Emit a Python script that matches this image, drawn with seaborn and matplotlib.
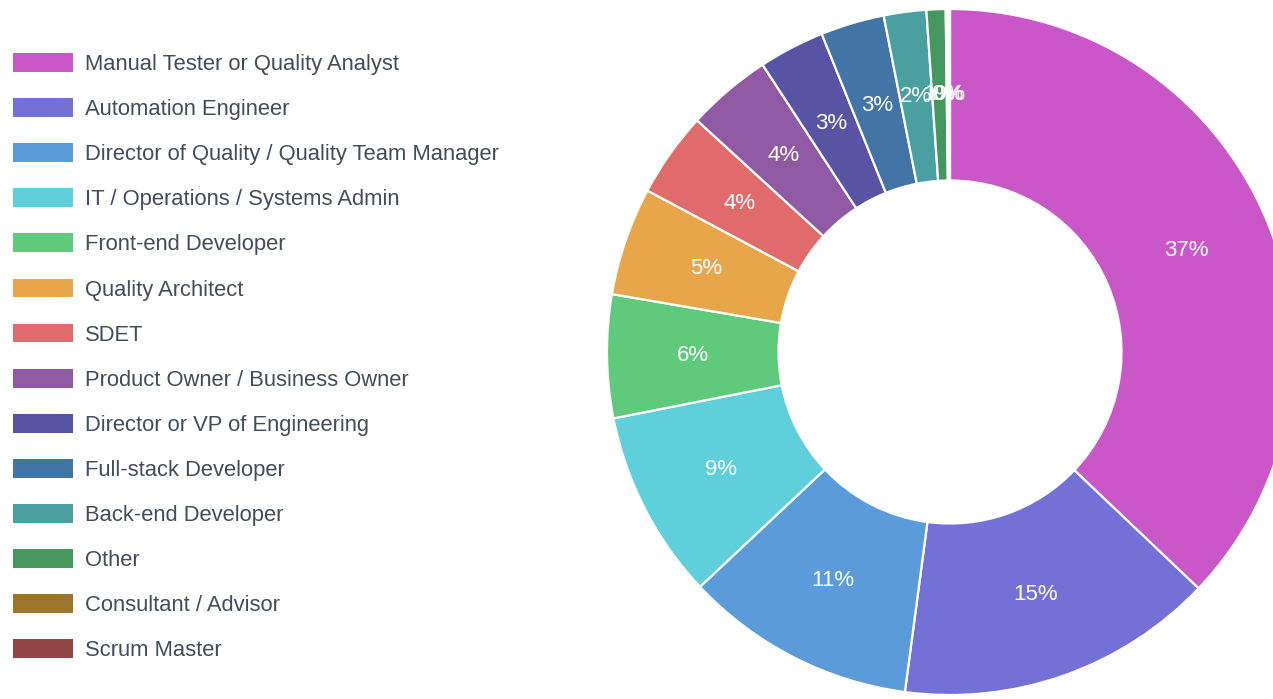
import numpy as np
import matplotlib.pyplot as plt
import seaborn as sns
from matplotlib.patches import Patch

sns.set_style('white')
plt.rcParams['font.family'] = ['Liberation Sans', 'DejaVu Sans']

roles = ['Manual Tester or Quality Analyst', 'Automation Engineer',
         'Director of Quality / Quality Team Manager', 'IT / Operations / Systems Admin',
         'Front-end Developer', 'Quality Architect', 'SDET', 'Product Owner / Business Owner',
         'Director or VP of Engineering', 'Full-stack Developer', 'Back-end Developer',
         'Other', 'Consultant / Advisor', 'Scrum Master']
share = [37.1, 15.0, 10.9, 8.9, 5.8, 5.1, 4.0, 4.0, 3.1, 3.0, 2.0, 0.9, 0.1, 0.1]
colors = ['#c957c7', '#7370d6', '#5b9bd9', '#5fcfdb', '#5fc97c', '#e8a64a', '#e06b6b',
          '#9059a3', '#5754a3', '#4274a6', '#4a9fa0', '#46975e', '#9c7430', '#914545']

pal = sns.color_palette(colors)

fig = plt.figure(figsize=(12.73, 6.99), dpi=100)
# pie box in pixels: center (950, 352), radius 343
ax = fig.add_axes([607 / 1273, 4 / 699, 686 / 1273, 686 / 699])
ax.pie(share, colors=pal, startangle=90, counterclock=False, radius=1,
       labels=None, autopct=lambda p: f'{p:.0f}%', pctdistance=0.75,
       wedgeprops=dict(width=0.5, edgecolor='white', linewidth=1.6),
       textprops=dict(color='white', fontsize=16))
ax.set_xlim(-1, 1)
ax.set_ylim(-1, 1)
ax.set_aspect('equal')
ax.axis('off')

handles = [Patch(facecolor=c, edgecolor='none') for c in pal]
fig.legend(handles, roles, loc='upper left', bbox_to_anchor=(13 / 1273, 1 - 53 / 699),
           frameon=False, fontsize=15.85, handlelength=2.72, handleheight=0.94,
           handletextpad=0.55, labelspacing=1.05, borderpad=0, borderaxespad=0,
           labelcolor='#444b59')

plt.savefig('out.png', dpi=100)
